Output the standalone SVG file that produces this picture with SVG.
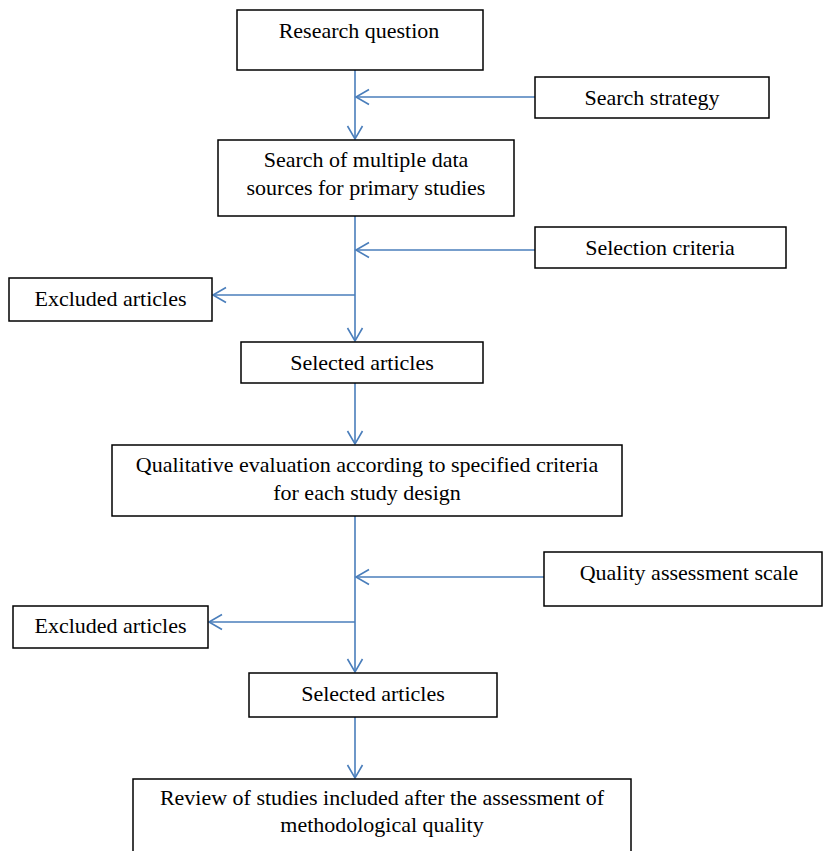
<svg xmlns="http://www.w3.org/2000/svg" width="824" height="851" viewBox="0 0 824 851">
<style>
.box{fill:#fff;stroke:#000;stroke-width:1.5}
.t{font-family:"Liberation Serif","Times New Roman",serif;font-size:22px;fill:#000;text-anchor:middle}
.c{fill:none;stroke:#4a7ebb;stroke-width:1.6}
</style>
<defs>
<marker id="ah" markerUnits="userSpaceOnUse" markerWidth="30" markerHeight="30" refX="0" refY="0" viewBox="-15 -15 30 30" orient="auto" overflow="visible">
<path d="M-13,-7.5 L0,0 L-13,7.5" fill="none" stroke="#4a7ebb" stroke-width="1.6"/>
</marker>
</defs>
<g id="connectors">
<path class="c" d="M355,70 V139" marker-end="url(#ah)"/>
<path class="c" d="M535,97 H356" marker-end="url(#ah)"/>
<path class="c" d="M355,216 V341" marker-end="url(#ah)"/>
<path class="c" d="M535,250 H356" marker-end="url(#ah)"/>
<path class="c" d="M355,295 H213" marker-end="url(#ah)"/>
<path class="c" d="M355,383 V444" marker-end="url(#ah)"/>
<path class="c" d="M355,516 V672" marker-end="url(#ah)"/>
<path class="c" d="M544,577 H356" marker-end="url(#ah)"/>
<path class="c" d="M355,622 H209" marker-end="url(#ah)"/>
<path class="c" d="M355,717 V778" marker-end="url(#ah)"/>
</g>
<g id="research-question">
<rect class="box" x="237" y="10" width="246" height="60"/>
<text class="t" x="359" y="38">Research question</text>
</g>
<g id="search-strategy">
<rect class="box" x="535" y="77" width="234" height="41"/>
<text class="t" x="652" y="105">Search strategy</text>
</g>
<g id="search-sources">
<rect class="box" x="218" y="140" width="296" height="76"/>
<text class="t" x="366" y="167">Search of multiple data</text>
<text class="t" x="366" y="195">sources for primary studies</text>
</g>
<g id="selection-criteria">
<rect class="box" x="535" y="227" width="251" height="41"/>
<text class="t" x="660" y="255">Selection criteria</text>
</g>
<g id="excluded-1">
<rect class="box" x="9" y="278" width="203" height="43"/>
<text class="t" x="110.5" y="306">Excluded articles</text>
</g>
<g id="selected-1">
<rect class="box" x="241" y="342" width="242" height="41"/>
<text class="t" x="362" y="370">Selected articles</text>
</g>
<g id="qualitative-evaluation">
<rect class="box" x="112" y="445" width="510" height="71"/>
<text class="t" x="367" y="472">Qualitative evaluation according to specified criteria</text>
<text class="t" x="367" y="500">for each study design</text>
</g>
<g id="quality-scale">
<rect class="box" x="544" y="552" width="278" height="54"/>
<text class="t" x="689" y="580">Quality assessment scale</text>
</g>
<g id="excluded-2">
<rect class="box" x="13" y="606" width="195" height="42"/>
<text class="t" x="110.5" y="633">Excluded articles</text>
</g>
<g id="selected-2">
<rect class="box" x="249" y="673" width="248" height="44"/>
<text class="t" x="373" y="701">Selected articles</text>
</g>
<g id="review">
<rect class="box" x="133" y="779" width="498" height="90"/>
<text class="t" x="382" y="805">Review of studies included after the assessment of</text>
<text class="t" x="382" y="832">methodological quality</text>
</g>
</svg>
